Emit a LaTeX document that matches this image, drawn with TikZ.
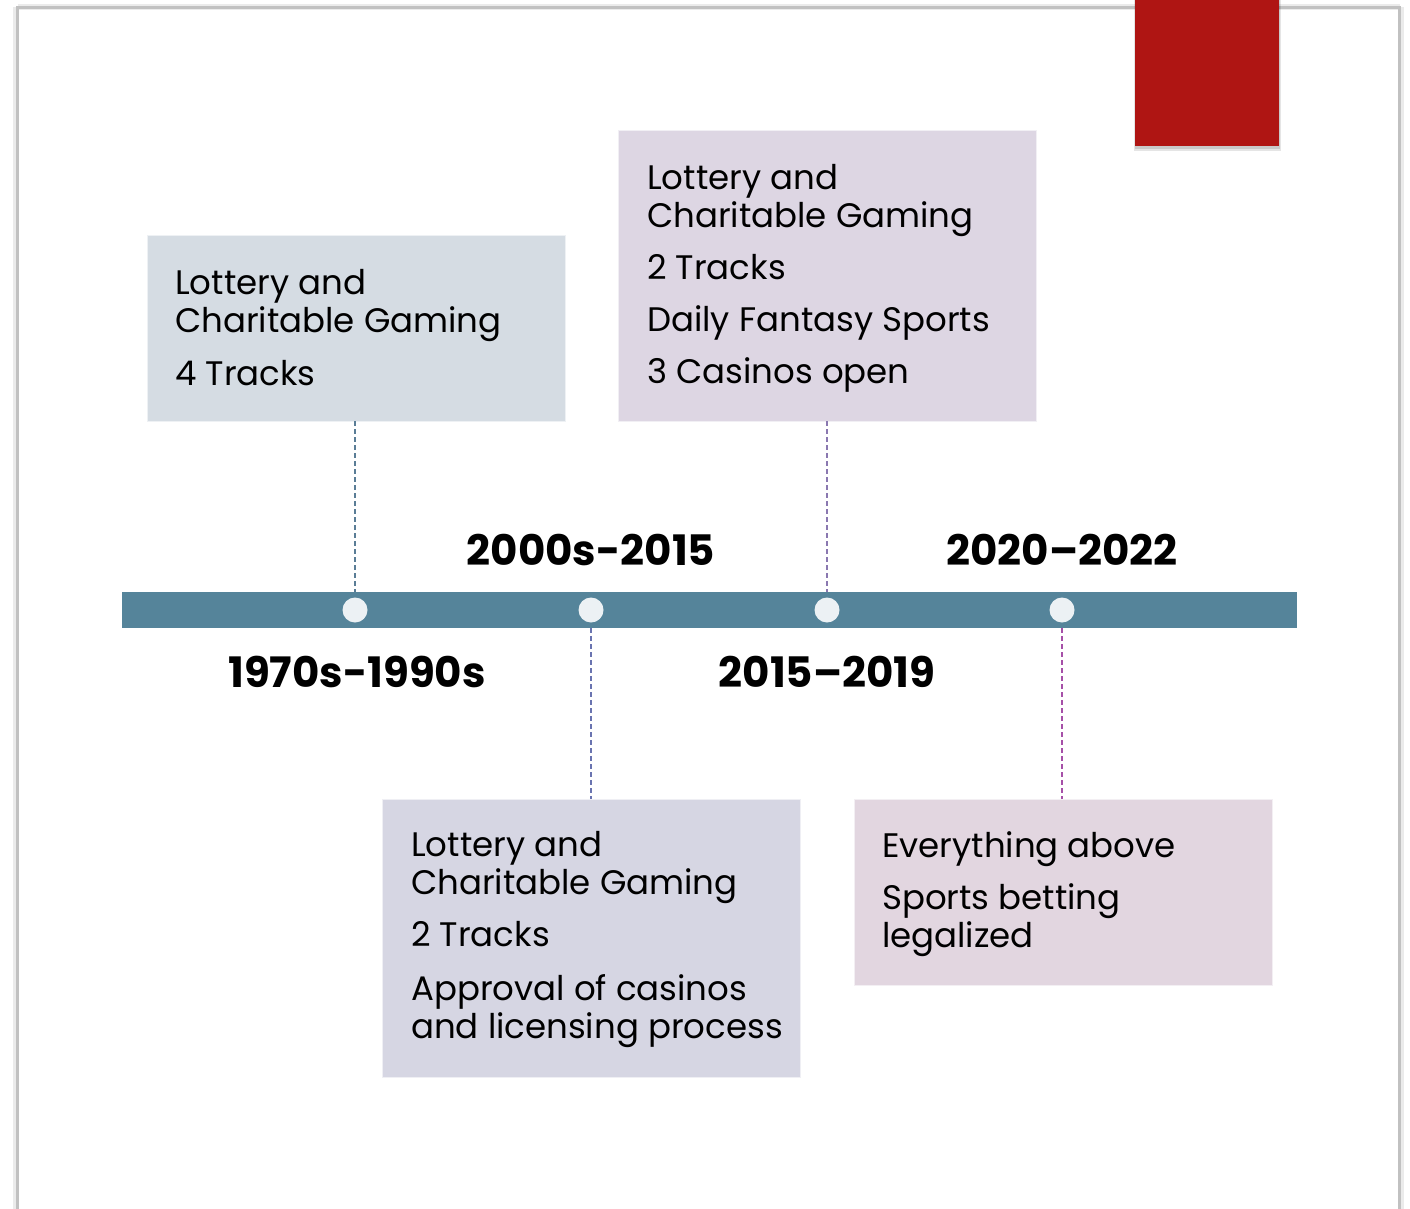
\documentclass[tikz,border=0pt]{standalone}
\usepackage{fontspec}
\setmainfont{Poppins}
\definecolor{barc}{RGB}{85,132,154}
\definecolor{dotc}{RGB}{236,241,244}
\definecolor{boxa}{RGB}{213,220,227}
\definecolor{boxb}{RGB}{221,214,227}
\definecolor{boxc}{RGB}{214,214,227}
\definecolor{boxd}{RGB}{226,214,224}
\definecolor{lna}{RGB}{90,125,150}
\definecolor{lnb}{RGB}{138,120,176}
\definecolor{lnc}{RGB}{106,116,176}
\definecolor{lnd}{RGB}{166,80,168}
\definecolor{redc}{RGB}{175,21,19}
\definecolor{framec}{RGB}{193,193,193}
\tikzset{
  x=1pt, y=-1pt,
  evbox/.style={rectangle, inner sep=0pt, minimum width=418pt, draw=white!60!#1, line width=0.8pt, fill=#1},
  evtext/.style={anchor=base west, inner sep=0pt, align=left, font=\fontsize{34}{38}\selectfont},
  datelbl/.style={anchor=base, inner sep=0pt, font=\fontsize{42}{46}\selectfont\bfseries},
  dot/.style={circle, inner sep=0pt, minimum size=25pt, fill=dotc},
  conn/.style={line width=1.3pt, dash pattern=on 5pt off 3pt, draw=#1}
}
\begin{document}
\begin{tikzpicture}
\useasboundingbox (0,0) rectangle (1410,1209);
\fill[white] (0,0) rectangle (1410,1209);
% page frame with soft shadow
\draw[line width=6pt, black!8] (17.5,7.5) -- (1399.5,7.5);
\draw[line width=6pt, black!8] (16,7.5) -- (16,1215);
\draw[line width=6pt, black!8] (1401,7.5) -- (1401,1215);
\draw[line width=3pt, framec] (17.5,1215) -- (17.5,7.5) -- (1399.5,7.5) -- (1399.5,1215);
% red tab with shadow
\fill[black, opacity=0.10] (1134,0) rectangle (1281,151);
\fill[black, opacity=0.12] (1135,0) rectangle (1280,149);
\node[rectangle, inner sep=0pt, minimum width=144pt, minimum height=146pt, fill=redc] (tab) at (1207,73) {};
% timeline bar
\node[rectangle, inner sep=0pt, minimum width=1175pt, minimum height=36pt, fill=barc] (bar) at (709.5,610) {};
\node[dot] (c1) at (355,610) {};
\node[dot] (c2) at (591,610) {};
\node[dot] (c3) at (827,610) {};
\node[dot] (c4) at (1062,610) {};
% boxes
\node[evbox=boxa, minimum height=186pt] (b1) at (356,328) {};
\node[evbox=boxb, minimum height=291pt] (b2) at (827,275.5) {};
\node[evbox=boxc, minimum height=278pt] (b3) at (591,938) {};
\node[evbox=boxd, minimum height=186pt] (b4) at (1063,892) {};
% box texts (anchor base = baseline of last line)
\node[evtext] (t1) at (175,385) {Lottery and\\Charitable Gaming\\[15pt]4 Tracks};
\node[evtext] (t2) at (647,383) {Lottery and\\Charitable Gaming\\[14pt]2 Tracks\\[14pt]Daily Fantasy Sports\\[14pt]3 Casinos open};
\node[evtext] (t3) at (411,1038) {Lottery and\\Charitable Gaming\\[14pt]2 Tracks\\[16pt]Approval of casinos\\and licensing process};
\node[evtext] (t4) at (882,947) {Everything above\\[14pt]Sports betting\\legalized};
% connectors
\draw[conn=lna] (b1.south -| c1) -- (c1 |- bar.north);
\draw[conn=lnb] (b2.south -| c3) -- (c3 |- bar.north);
\draw[conn=lnc] (c2 |- bar.south) -- (b3.north -| c2);
\draw[conn=lnd] (c4 |- bar.south) -- (b4.north -| c4);
% date labels
\node[datelbl] (d1) at (357,687) {1970s-1990s};
\node[datelbl] (d2) at (591,565) {2000s-2015};
\node[datelbl] (d3) at (827,687) {2015–2019};
\node[datelbl] (d4) at (1062,565) {2020–2022};
\end{tikzpicture}
\end{document}
